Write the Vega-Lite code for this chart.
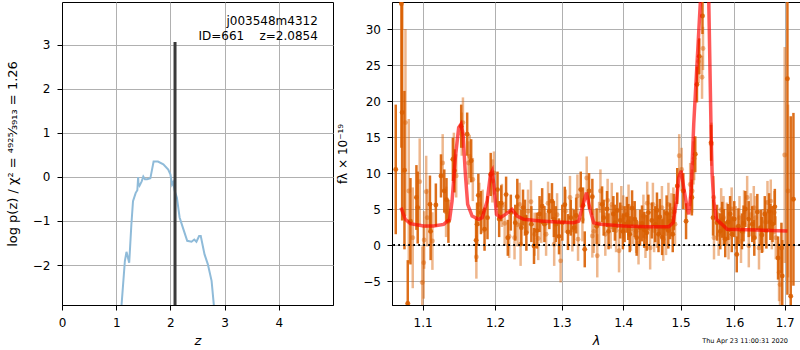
{
  "$schema": "https://vega.github.io/schema/vega-lite/v6.json",
  "padding": {"left": 5, "top": 1, "right": 0, "bottom": 0},
  "config": {
    "font": "DejaVu Sans",
    "view": {"stroke": "black", "strokeWidth": 1},
    "axis": {
      "labelFont": "DejaVu Sans", "titleFont": "DejaVu Sans",
      "labelFontSize": 12, "titleFontSize": 13, "titleFontWeight": "normal",
      "labelColor": "black", "titleColor": "black", "tickColor": "black", "domainColor": "black",
      "tickSize": 5, "labelPadding": 7, "gridColor": "#b0b0b0", "gridWidth": 1, "gridOpacity": 1,
      "labelFlush": false, "labelOverlap": false
    },
    "concat": {"spacing": 2}
  },
  "datasets": {
    "pz": [
      {"z":1.05,"lp":-3.6},{"z":1.10,"lp":-2.89},{"z":1.16,"lp":-1.91},{"z":1.19,"lp":-1.70},{"z":1.21,"lp":-1.80},{"z":1.24,"lp":-1.95},{"z":1.28,"lp":-1.08},{"z":1.31,"lp":-0.55},{"z":1.36,"lp":-0.36},{"z":1.39,"lp":-0.30},{"z":1.405,"lp":0.0},{"z":1.41,"lp":-0.15},{"z":1.43,"lp":-0.2},{"z":1.47,"lp":-0.10},{"z":1.50,"lp":0.01},{"z":1.53,"lp":-0.05},{"z":1.57,"lp":-0.05},{"z":1.63,"lp":-0.03},{"z":1.69,"lp":0.35},{"z":1.77,"lp":0.35},{"z":1.87,"lp":0.29},{"z":1.96,"lp":0.17},{"z":2.00,"lp":0.06},{"z":2.03,"lp":-0.17},{"z":2.05,"lp":-0.12},{"z":2.08,"lp":-0.32},{"z":2.12,"lp":-0.47},{"z":2.17,"lp":-0.92},{"z":2.23,"lp":-1.15},{"z":2.31,"lp":-1.45},{"z":2.39,"lp":-1.47},{"z":2.44,"lp":-1.42},{"z":2.48,"lp":-1.47},{"z":2.53,"lp":-1.34},{"z":2.56,"lp":-1.34},{"z":2.63,"lp":-1.76},{"z":2.69,"lp":-1.98},{"z":2.76,"lp":-2.36},{"z":2.80,"lp":-2.89},{"z":2.83,"lp":-3.4}
    ],
    "best": [{"z":2.0854,"lp":3.07,"bottom":-3.0}],
    "dk": [
      {"l":1.0650,"f":10.5,"e":9},{"l":1.0723,"f":33.5,"e":20},{"l":1.0732,"f":18.4,"e":15},{"l":1.0762,"f":10.4,"e":11},{"l":1.0805,"f":-8.1,"e":6},{"l":1.0840,"f":3.3,"e":6},{"l":1.0918,"f":6.6,"e":4.5},{"l":1.0935,"f":5.2,"e":5},{"l":1.1097,"f":5.65,"e":4},{"l":1.1106,"f":1.9,"e":4},{"l":1.1176,"f":5.55,"e":3},{"l":1.1245,"f":9.6,"e":3},{"l":1.1290,"f":7.5,"e":3},{"l":1.1320,"f":6.3,"e":3},{"l":1.1346,"f":3.3,"e":3},{"l":1.1407,"f":11.9,"e":3},{"l":1.1429,"f":10.3,"e":3},{"l":1.1522,"f":16.5,"e":3},{"l":1.1605,"f":15.4,"e":3},{"l":1.1661,"f":11.7,"e":3},{"l":1.1730,"f":0.65,"e":3},{"l":1.1744,"f":2.9,"e":3},{"l":1.1762,"f":6.9,"e":3},{"l":1.1799,"f":4.5,"e":3},{"l":1.1850,"f":2.2,"e":3},{"l":1.1892,"f":3.8,"e":3},{"l":1.1938,"f":9.8,"e":3},
      {"l":1.2036,"f":7.7,"e":2.5},{"l":1.2060,"f":3.6,"e":2.5},{"l":1.2090,"f":5.8,"e":2.5},{"l":1.2161,"f":7.0,"e":2.5},{"l":1.2186,"f":1.0,"e":2.5},{"l":1.2230,"f":4.5,"e":2.5},{"l":1.2296,"f":3.1,"e":2.5},{"l":1.2326,"f":6.7,"e":2.5},{"l":1.2386,"f":2.4,"e":2.5},{"l":1.2411,"f":5.2,"e":2.5},{"l":1.2440,"f":3.8,"e":2.5},{"l":1.2461,"f":1.7,"e":2.5},{"l":1.2536,"f":2.9,"e":2.5},{"l":1.2576,"f":-0.14,"e":2.5},{"l":1.2620,"f":2.0,"e":2.5},{"l":1.2660,"f":4.3,"e":2.5},{"l":1.2700,"f":5.4,"e":2.5},{"l":1.2735,"f":2.9,"e":2.5},{"l":1.2810,"f":4.7,"e":2.5},{"l":1.2851,"f":6.1,"e":2.5},{"l":1.2880,"f":3.6,"e":2.5},{"l":1.2910,"f":2.9,"e":2.5},{"l":1.2960,"f":1.2,"e":2.5},{"l":1.3011,"f":3.1,"e":2.5},{"l":1.3050,"f":5.6,"e":2.5},{"l":1.3100,"f":1.8,"e":2.5},{"l":1.3144,"f":3.8,"e":2.5},{"l":1.3196,"f":2.4,"e":2.5},{"l":1.3230,"f":4.1,"e":2.5},{"l":1.3303,"f":7.7,"e":2.5},{"l":1.3340,"f":5.5,"e":2.5},{"l":1.3367,"f":-0.6,"e":2.5},{"l":1.3436,"f":7.5,"e":2.5},
      {"l":1.3490,"f":6.7,"e":2.5},{"l":1.3560,"f":2.6,"e":2.5},{"l":1.3649,"f":5.65,"e":2.5},{"l":1.3675,"f":3.8,"e":2.5},{"l":1.3730,"f":5.0,"e":2.5},{"l":1.3755,"f":1.9,"e":2.5},{"l":1.3835,"f":4.3,"e":2.5},{"l":1.3861,"f":3.1,"e":2.5},{"l":1.3900,"f":4.8,"e":2.5},{"l":1.3950,"f":3.4,"e":2.5},{"l":1.3994,"f":1.9,"e":2.5},{"l":1.4023,"f":2.9,"e":2.5},{"l":1.4060,"f":4.2,"e":2.5},{"l":1.4085,"f":3.2,"e":2.5},{"l":1.4110,"f":1.5,"e":2.5},{"l":1.4150,"f":5.1,"e":2.5},{"l":1.4195,"f":3.6,"e":2.5},{"l":1.4228,"f":1.0,"e":2.5},{"l":1.4286,"f":2.4,"e":2.5},{"l":1.4320,"f":3.0,"e":2.5},{"l":1.4360,"f":2.1,"e":2.5},{"l":1.4403,"f":1.7,"e":2.5},{"l":1.4430,"f":4.5,"e":2.5},{"l":1.4490,"f":3.4,"e":2.5},{"l":1.4549,"f":2.9,"e":2.5},{"l":1.4580,"f":4.8,"e":2.5},{"l":1.4607,"f":1.5,"e":2.5},{"l":1.4630,"f":3.9,"e":2.5},{"l":1.4670,"f":1.1,"e":2.5},{"l":1.4707,"f":2.4,"e":2.5},{"l":1.4750,"f":4.4,"e":2.5},{"l":1.4780,"f":2.0,"e":2.5},{"l":1.4812,"f":3.3,"e":2.5},{"l":1.4859,"f":1.5,"e":2.5},{"l":1.4880,"f":4.6,"e":2.5},{"l":1.4940,"f":8.2,"e":2.5},{"l":1.5049,"f":7.5,"e":2.5},{"l":1.5099,"f":3.3,"e":2.5},{"l":1.5205,"f":6.6,"e":2.5},
      {"l":1.5267,"f":12.6,"e":2.5},{"l":1.5298,"f":22.3,"e":2.5},{"l":1.5341,"f":26.2,"e":2.5},{"l":1.5400,"f":31.8,"e":2.5},{"l":1.5560,"f":14.2,"e":2.5},{"l":1.5597,"f":3.8,"e":2.5},{"l":1.5672,"f":3.1,"e":2.5},{"l":1.5733,"f":1.9,"e":2.5},{"l":1.5770,"f":3.5,"e":2.5},{"l":1.5800,"f":2.5,"e":2.5},{"l":1.5827,"f":0.8,"e":2.5},{"l":1.5880,"f":3.2,"e":2.5},{"l":1.5920,"f":4.3,"e":2.5},{"l":1.5952,"f":1.5,"e":2.5},{"l":1.6000,"f":3.6,"e":2.5},{"l":1.6048,"f":-1.3,"e":2.5},{"l":1.6080,"f":2.6,"e":2.5},{"l":1.6149,"f":1.9,"e":2.5},{"l":1.6180,"f":3.0,"e":2.5},{"l":1.6215,"f":5.0,"e":2.5},{"l":1.6280,"f":3.6,"e":2.5},{"l":1.6350,"f":2.9,"e":2.5},{"l":1.6390,"f":1.0,"e":2.5},{"l":1.6450,"f":4.6,"e":2.5},{"l":1.6517,"f":2.4,"e":2.5},{"l":1.6540,"f":1.4,"e":2.5},{"l":1.6598,"f":4.3,"e":2.5},{"l":1.6630,"f":2.0,"e":2.5},{"l":1.6684,"f":4.7,"e":2.5},{"l":1.6710,"f":3.2,"e":2.5},{"l":1.6753,"f":2.9,"e":2.5},{"l":1.6800,"f":5.3,"e":2.5},{"l":1.6865,"f":-1.8,"e":3},{"l":1.6934,"f":-0.4,"e":3.5},{"l":1.6950,"f":-4.3,"e":5},{"l":1.7056,"f":23.1,"e":30},{"l":1.7124,"f":-7.1,"e":25},{"l":1.7180,"f":6.35,"e":12}
    ],
    "lt": [
      {"l":1.0775,"f":17.0,"e":13},{"l":1.0818,"f":7.5,"e":10},{"l":1.0870,"f":1.0,"e":7},{"l":1.0961,"f":8.8,"e":6},{"l":1.0995,"f":-5.2,"e":5},{"l":1.1014,"f":-2.45,"e":5},{"l":1.1020,"f":0.7,"e":4},{"l":1.1047,"f":7.4,"e":5},{"l":1.1061,"f":3.8,"e":4},{"l":1.1130,"f":0.55,"e":4},{"l":1.1268,"f":11.4,"e":4},{"l":1.1314,"f":4.6,"e":3.5},{"l":1.1421,"f":12.1,"e":3.5},{"l":1.1453,"f":9.6,"e":3},{"l":1.1530,"f":15.4,"e":3},{"l":1.1546,"f":17.0,"e":3.5},{"l":1.1623,"f":11.4,"e":3},{"l":1.1640,"f":12.3,"e":3},{"l":1.1684,"f":9.1,"e":3},{"l":1.1734,"f":-1.67,"e":3},{"l":1.1776,"f":5.65,"e":3},{"l":1.1823,"f":4.7,"e":3},{"l":1.1962,"f":8.9,"e":3},{"l":1.1984,"f":10.0,"e":3},
      {"l":1.2100,"f":5.5,"e":3},{"l":1.2140,"f":3.0,"e":3},{"l":1.2206,"f":1.2,"e":3},{"l":1.2285,"f":1.0,"e":3},{"l":1.2330,"f":2.8,"e":3},{"l":1.2360,"f":5.65,"e":3},{"l":1.2375,"f":0.1,"e":3},{"l":1.2486,"f":4.7,"e":3},{"l":1.2530,"f":6.0,"e":3},{"l":1.2585,"f":1.5,"e":3},{"l":1.2640,"f":0.9,"e":3},{"l":1.2686,"f":3.3,"e":3},{"l":1.2760,"f":1.5,"e":3},{"l":1.2790,"f":5.8,"e":3},{"l":1.2885,"f":0.1,"e":3},{"l":1.2930,"f":4.2,"e":3},{"l":1.2985,"f":-2.2,"e":3},{"l":1.3064,"f":4.7,"e":3},{"l":1.3132,"f":6.6,"e":3},{"l":1.3170,"f":2.1,"e":3},{"l":1.3250,"f":6.8,"e":3},{"l":1.3260,"f":0.8,"e":3},{"l":1.3330,"f":3.5,"e":3},{"l":1.3399,"f":9.3,"e":3},
      {"l":1.3490,"f":1.25,"e":3},{"l":1.3515,"f":1.9,"e":3},{"l":1.3570,"f":-1.5,"e":3},{"l":1.3600,"f":3.0,"e":3},{"l":1.3622,"f":7.5,"e":3},{"l":1.3702,"f":1.5,"e":3},{"l":1.3740,"f":6.2,"e":3},{"l":1.3790,"f":2.5,"e":3},{"l":1.3809,"f":5.65,"e":3},{"l":1.3880,"f":2.0,"e":3},{"l":1.3930,"f":-0.8,"e":3},{"l":1.3968,"f":5.2,"e":3},{"l":1.4000,"f":3.9,"e":3},{"l":1.4090,"f":5.4,"e":3},{"l":1.4130,"f":2.2,"e":3},{"l":1.4168,"f":3.1,"e":3},{"l":1.4220,"f":1.9,"e":3},{"l":1.4260,"f":0.3,"e":3},{"l":1.4344,"f":4.0,"e":3},{"l":1.4380,"f":1.2,"e":3},{"l":1.4410,"f":5.8,"e":3},{"l":1.4461,"f":-0.4,"e":3},{"l":1.4509,"f":5.65,"e":3},{"l":1.4530,"f":2.0,"e":3},{"l":1.4580,"f":2.6,"e":3},{"l":1.4667,"f":5.2,"e":3},{"l":1.4690,"f":0.8,"e":3},{"l":1.4740,"f":1.6,"e":3},{"l":1.4782,"f":5.65,"e":3},{"l":1.4835,"f":4.2,"e":3},{"l":1.4870,"f":5.0,"e":3},{"l":1.4900,"f":2.9,"e":3},{"l":1.4975,"f":12.4,"e":3},{"l":1.5019,"f":10.5,"e":3},{"l":1.5174,"f":8.4,"e":3},{"l":1.5210,"f":7.5,"e":3},
      {"l":1.5235,"f":11.4,"e":3},{"l":1.5248,"f":12.0,"e":3},{"l":1.5328,"f":25.5,"e":3},{"l":1.5392,"f":23.3,"e":3},{"l":1.5410,"f":27.3,"e":3},{"l":1.5565,"f":14.0,"e":3},{"l":1.5608,"f":6.6,"e":3},{"l":1.5615,"f":1.0,"e":3},{"l":1.5702,"f":1.5,"e":3},{"l":1.5750,"f":4.9,"e":3},{"l":1.5795,"f":3.8,"e":3},{"l":1.5858,"f":2.9,"e":3},{"l":1.5890,"f":1.0,"e":3},{"l":1.5950,"f":5.0,"e":3},{"l":1.6030,"f":2.4,"e":3},{"l":1.6101,"f":3.8,"e":3},{"l":1.6130,"f":0.5,"e":3},{"l":1.6190,"f":4.6,"e":3},{"l":1.6250,"f":6.6,"e":3},{"l":1.6282,"f":-0.1,"e":3},{"l":1.6320,"f":4.2,"e":3},{"l":1.6380,"f":5.2,"e":3},{"l":1.6416,"f":3.8,"e":3},{"l":1.6483,"f":-0.4,"e":3},{"l":1.6560,"f":2.0,"e":3},{"l":1.6610,"f":3.2,"e":3},{"l":1.6652,"f":5.9,"e":3},{"l":1.6718,"f":6.1,"e":3},{"l":1.6740,"f":2.4,"e":3},{"l":1.6790,"f":4.5,"e":3},{"l":1.6819,"f":1.0,"e":3},{"l":1.6885,"f":-3.8,"e":4},{"l":1.6905,"f":-5.5,"e":5},{"l":1.7000,"f":12.5,"e":15},{"l":1.7068,"f":7.5,"e":12}
    ],
    "model": [
      {"l":1.0717,"f":5.18},{"l":1.0773,"f":3.57},{"l":1.0838,"f":2.96},{"l":1.1013,"f":2.64},{"l":1.1146,"f":2.64},{"l":1.1281,"f":2.87},{"l":1.1363,"f":3.57},{"l":1.1396,"f":6.1},{"l":1.1441,"f":12.1},{"l":1.1487,"f":16.3},{"l":1.1520,"f":16.8},{"l":1.1548,"f":15.4},{"l":1.1580,"f":9.8},{"l":1.1612,"f":5.65},{"l":1.1674,"f":4.03},{"l":1.1767,"f":3.57},{"l":1.1816,"f":3.8},{"l":1.1887,"f":6.1},{"l":1.1934,"f":9.8},{"l":1.1960,"f":10.3},{"l":1.1982,"f":8.5},{"l":1.2021,"f":4.26},{"l":1.2079,"f":3.8},{"l":1.2152,"f":4.26},{"l":1.2249,"f":4.95},{"l":1.2323,"f":4.03},{"l":1.2421,"f":3.57},{"l":1.2674,"f":3.33},{"l":1.2931,"f":3.19},{"l":1.3192,"f":3.1},{"l":1.3271,"f":3.33},{"l":1.3325,"f":5.18},{"l":1.3394,"f":7.27},{"l":1.3459,"f":4.72},{"l":1.3512,"f":3.1},{"l":1.3621,"f":2.87},{"l":1.4008,"f":2.64},{"l":1.4409,"f":2.54},{"l":1.4788,"f":2.54},{"l":1.4866,"f":3.1},{"l":1.4926,"f":6.11},{"l":1.4967,"f":9.35},{"l":1.5010,"f":10.3},{"l":1.5057,"f":7.96},{"l":1.5119,"f":5.18},{"l":1.5148,"f":4.26},{"l":1.5191,"f":7.5},{"l":1.5239,"f":16.8},{"l":1.5362,"f":33.9},{"l":1.5448,"f":45},{"l":1.5517,"f":33.9},{"l":1.5561,"f":15.4},{"l":1.5580,"f":9.8},{"l":1.5610,"f":6.1},{"l":1.5661,"f":3.57},{"l":1.5766,"f":2.87},{"l":1.5862,"f":2.18},{"l":1.6452,"f":2.08},{"l":1.7057,"f":1.94}
    ],
    "zero": [{"f":0}]
  },
  "hconcat": [
    {
      "width": 271,
      "height": 303,
      "layer": [
        {
          "data": {"name": "pz"},
          "mark": {"type": "line", "color": "#8fbbd9", "strokeWidth": 2, "clip": true},
          "encoding": {
            "x": {"field": "z", "type": "quantitative", "title": "z", "scale": {"domain": [0, 5.0], "nice": false, "zero": false},
                  "axis": {"values": [0, 1, 2, 3, 4], "titleFontStyle": "italic", "titlePadding": 6}},
            "y": {"field": "lp", "type": "quantitative", "title": "log p(z) / χ² = ⁴⁹²⁵⁄₃₉₁₃ = 1.26", "scale": {"domain": [-2.909, 3.977], "nice": false, "zero": false},
                  "axis": {"values": [-2, -1, 0, 1, 2, 3], "titlePadding": 13}}
          }
        },
        {
          "data": {"name": "best"},
          "mark": {"type": "rule", "color": "#3a3a3a", "strokeWidth": 3, "clip": true},
          "encoding": {
            "x": {"field": "z", "type": "quantitative", "title": "z"},
            "y": {"field": "bottom", "type": "quantitative", "title": "log p(z) / χ² = ⁴⁹²⁵⁄₃₉₁₃ = 1.26"},
            "y2": {"field": "lp"}
          }
        },
        {
          "data": {"name": "best"},
          "mark": {"type": "text", "text": "j003548m4312", "align": "right", "baseline": "middle", "fontSize": 12, "font": "DejaVu Sans", "color": "black"},
          "encoding": {"x": {"datum": 4.72, "type": "quantitative"}, "y": {"datum": 3.545, "type": "quantitative"}}
        },
        {
          "data": {"name": "best"},
          "mark": {"type": "text", "text": "ID=661\u00a0\u00a0\u00a0\u00a0z=2.0854", "align": "right", "baseline": "middle", "fontSize": 12, "font": "DejaVu Sans", "color": "black"},
          "encoding": {"x": {"datum": 4.72, "type": "quantitative"}, "y": {"datum": 3.2, "type": "quantitative"}}
        }
      ]
    },
    {
      "width": 408,
      "height": 303,
      "layer": [
        {
          "data": {"name": "dk"},
          "mark": {"type": "errorbar", "thickness": 2.5, "color": "#d95f02", "opacity": 0.9, "clip": true},
          "encoding": {
            "x": {"field": "l", "type": "quantitative", "title": "λ", "scale": {"type": "log", "domain": [1.0602, 1.7316], "nice": false},
                  "axis": {"values": [1.1, 1.2, 1.3, 1.4, 1.5, 1.6, 1.7], "format": ".1f", "titleFontStyle": "italic", "titlePadding": 6}},
            "y": {"field": "f", "type": "quantitative", "title": "fλ × 10⁻¹⁹", "scale": {"domain": [-8.33, 33.75], "nice": false, "zero": false},
                  "axis": {"values": [-5, 0, 5, 10, 15, 20, 25, 30], "titleFontSize": 12, "labelPadding": 6.5, "titlePadding": 13}},
            "yError": {"field": "e"}
          }
        },
        {
          "data": {"name": "dk"},
          "mark": {"type": "circle", "size": 24, "color": "#d95f02", "opacity": 0.9, "clip": true},
          "encoding": {"x": {"field": "l", "type": "quantitative", "title": "λ"}, "y": {"field": "f", "type": "quantitative", "title": "fλ × 10⁻¹⁹"}}
        },
        {
          "data": {"name": "lt"},
          "mark": {"type": "errorbar", "thickness": 2.5, "color": "#d95f02", "opacity": 0.45, "clip": true},
          "encoding": {"x": {"field": "l", "type": "quantitative", "title": "λ"}, "y": {"field": "f", "type": "quantitative", "title": "fλ × 10⁻¹⁹"}, "yError": {"field": "e"}}
        },
        {
          "data": {"name": "lt"},
          "mark": {"type": "circle", "size": 24, "color": "#d95f02", "opacity": 0.45, "clip": true},
          "encoding": {"x": {"field": "l", "type": "quantitative", "title": "λ"}, "y": {"field": "f", "type": "quantitative", "title": "fλ × 10⁻¹⁹"}}
        },
        {
          "data": {"name": "model"},
          "mark": {"type": "line", "color": "#ff0000", "opacity": 0.65, "strokeWidth": 3.5, "clip": true},
          "encoding": {"x": {"field": "l", "type": "quantitative", "title": "λ"}, "y": {"field": "f", "type": "quantitative", "title": "fλ × 10⁻¹⁹"}}
        },
        {
          "data": {"name": "zero"},
          "mark": {"type": "rule", "color": "black", "strokeWidth": 1.8, "strokeDash": [1.8, 3.2]},
          "encoding": {"y": {"field": "f", "type": "quantitative", "title": "fλ × 10⁻¹⁹"}}
        },
        {
          "data": {"name": "zero"},
          "mark": {"type": "text", "text": "Thu Apr 23 11:00:31 2020", "align": "right", "baseline": "middle", "fontSize": 6.5, "font": "DejaVu Sans", "color": "black"},
          "encoding": {"x": {"datum": 1.7068, "type": "quantitative"}, "y": {"datum": -13.3, "type": "quantitative"}}
        }
      ]
    }
  ]
}
